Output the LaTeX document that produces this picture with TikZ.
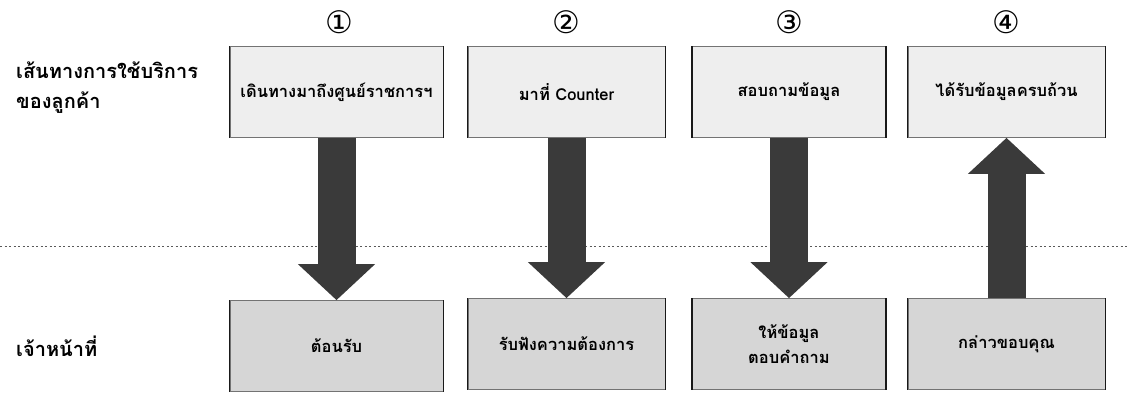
\documentclass[tikz,border=0pt]{standalone}
\usepackage{fontspec}
\newfontfamily\thaifont[Script=Thai]{Loma}
\newfontfamily\symfont{DejaVu Sans}
\usetikzlibrary{arrows.meta}

\definecolor{topfill}{HTML}{EEEEEE}
\definecolor{botfill}{HTML}{D6D6D6}
\definecolor{arrowfill}{HTML}{3A3A3A}

\tikzset{
  stepbox/.style={draw=black!55, line width=0.7pt, inner sep=0pt, minimum height=91pt},
  topbox/.style={stepbox, fill=topfill},
  botbox/.style={stepbox, fill=botfill},
  sideedge/.style={draw=black!90, line width=1.6pt},
  boxtext/.style={font=\thaifont\bfseries\fontsize{16.5}{25}\selectfont, align=center, inner sep=0pt},
  sidelabel/.style={font=\thaifont\bfseries\fontsize{20}{30}\selectfont, align=left, anchor=west, inner sep=0pt},
  stepnum/.style={font=\symfont\fontsize{31}{31}\selectfont, inner sep=0pt},
  bigarrow/.style={draw=arrowfill, line width=38pt,
    -{Triangle[length=36pt, width=75pt]}},
  divider/.style={draw=black!65, line width=0.8pt, dash pattern=on 2pt off 2.5pt}
}

\begin{document}
\begin{tikzpicture}[x=1pt, y=-1pt]
\useasboundingbox (0,0) rectangle (1129,399);

% divider between customer and staff lanes
\coordinate (dl) at (0,246);
\coordinate (dr) at (1129,246);
\draw[divider] (dl) -- (dr);

% lane labels
\node[sidelabel] (lanecust) at (16,88) {เส้นทางการใช้บริการ\\ของลูกค้า};
\node[sidelabel] (lanestaff) at (16,346) {เจ้าหน้าที่};

% customer steps
\node[topbox, minimum width=213pt] (t1) at (336.5,92) {};
\node[topbox, minimum width=197pt] (t2) at (566.5,92) {};
\node[topbox, minimum width=193pt] (t3) at (789,92) {};
\node[topbox, minimum width=197pt] (t4) at (1006.5,92) {};

\node[boxtext] (t1txt) at (t1.center) {เดินทางมาถึงศูนย์ราชการฯ};
\node[boxtext] (t2txt) at (t2.center) {มาที่ Counter};
\node[boxtext] (t3txt) at (t3.center) {สอบถามข้อมูล};
\node[boxtext] (t4txt) at (t4.center) {ได้รับข้อมูลครบถ้วน};

% step numbers
\node[stepnum] (n1) at (339,22) {①};
\node[stepnum] (n2) at (566.5,22) {②};
\node[stepnum] (n3) at (789,22) {③};
\node[stepnum] (n4) at (1006.5,22) {④};

% staff steps
\node[botbox, minimum width=213pt] (b1) at (336.5,346) {};
\node[botbox, minimum width=197pt] (b2) at (566.5,344) {};
\node[botbox, minimum width=193pt] (b3) at (789,344) {};
\node[botbox, minimum width=197pt] (b4) at (1006.5,344) {};

\node[boxtext] (b1txt) at (b1.center) {ต้อนรับ};
\node[boxtext] (b2txt) at (b2.center) {รับฟังความต้องการ};
\node[boxtext] (b3txt) at (b3.center) {ให้ข้อมูล\\ตอบคำถาม};
\node[boxtext] (b4txt) at (b4.center) {กล่าวขอบคุณ};

% darker vertical edges of the boxes
\foreach \n in {t1,t2,t3,t4,b1,b2,b3,b4}
  \draw[sideedge] (\n.north west) -- (\n.south west)
                  (\n.north east) -- (\n.south east);

% flow between customer and staff
\draw[bigarrow] (t1.south) -- (b1.north);
\draw[bigarrow] (t2.south) -- (b2.north);
\draw[bigarrow] (t3.south) -- (b3.north);
\draw[bigarrow] (b4.north) -- (t4.south);
\end{tikzpicture}
\end{document}
